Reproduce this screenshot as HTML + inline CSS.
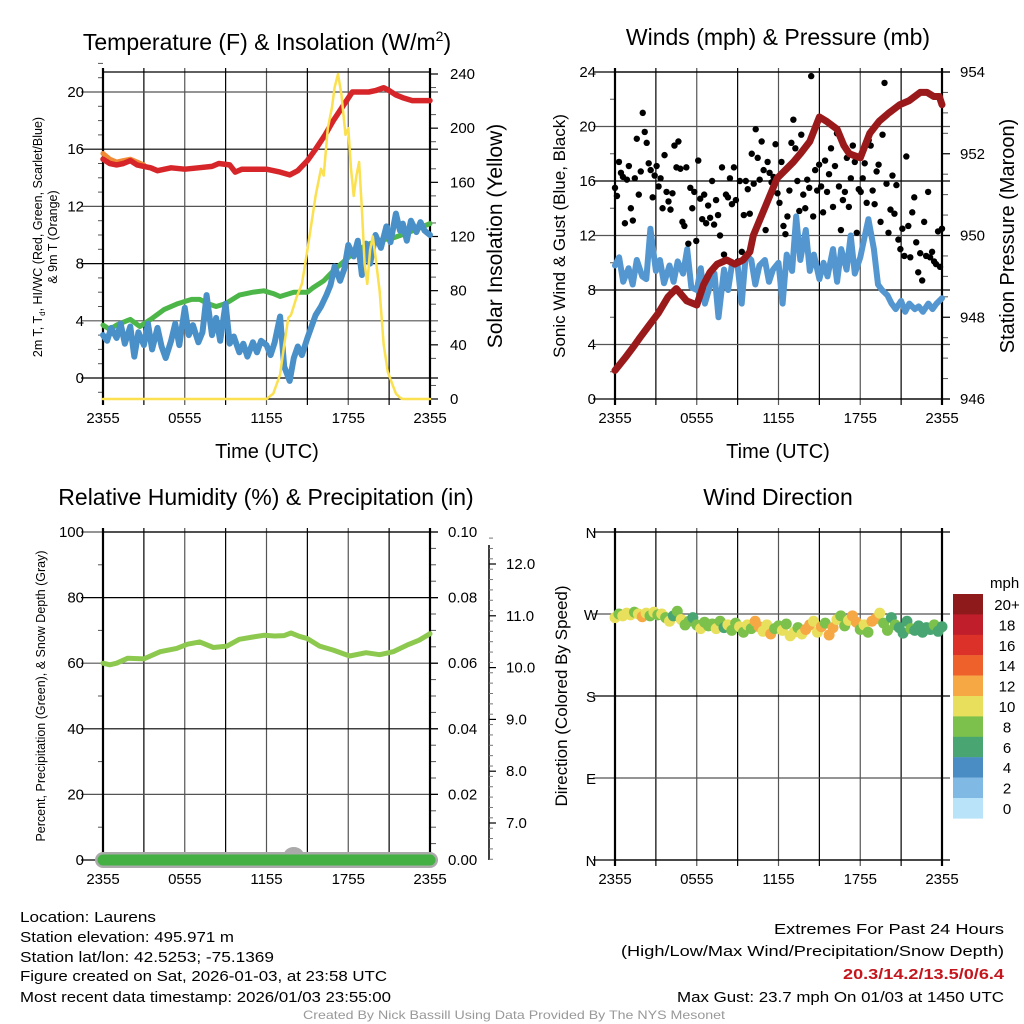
<!DOCTYPE html>
<html><head><meta charset="utf-8"><style>
html,body{margin:0;padding:0;background:#fff}
svg{display:block;font-family:"Liberation Sans",sans-serif}
</style></head><body>
<svg id="chart" width="1024" height="1024" viewBox="0 0 1024 1024" xmlns="http://www.w3.org/2000/svg">
<rect width="1024" height="1024" fill="#fff"/>
<g id="g"></g>
<g font-size="15" fill="#000">
<text x="20" y="922" textLength="136" lengthAdjust="spacingAndGlyphs">Location: Laurens</text>
<text x="20" y="942" textLength="214" lengthAdjust="spacingAndGlyphs">Station elevation: 495.971 m</text>
<text x="20" y="962" textLength="254" lengthAdjust="spacingAndGlyphs">Station lat/lon: 42.5253; -75.1369</text>
<text x="20" y="981" textLength="367" lengthAdjust="spacingAndGlyphs">Figure created on Sat, 2026-01-03, at 23:58 UTC</text>
<text x="20" y="1002" textLength="371" lengthAdjust="spacingAndGlyphs">Most recent data timestamp: 2026/01/03 23:55:00</text>
</g>
<g font-size="15" fill="#000" text-anchor="end">
<text x="1004" y="934" textLength="230" lengthAdjust="spacingAndGlyphs">Extremes For Past 24 Hours</text>
<text x="1004" y="956" textLength="383" lengthAdjust="spacingAndGlyphs">(High/Low/Max Wind/Precipitation/Snow Depth)</text>
<text x="1004" y="979" fill="#c4161c" font-weight="bold" textLength="161" lengthAdjust="spacingAndGlyphs">20.3/14.2/13.5/0/6.4</text>
<text x="1004" y="1002" textLength="327" lengthAdjust="spacingAndGlyphs">Max Gust: 23.7 mph On 01/03 at 1450 UTC</text>
</g>
<text x="514" y="1019" font-size="12" fill="#999" text-anchor="middle" textLength="422" lengthAdjust="spacingAndGlyphs">Created By Nick Bassill Using Data Provided By The NYS Mesonet</text>
</svg>
<script>
// ---------- DATA ----------
const timeTicks = ["2355","0555","1155","1755","2355"];
const tempTimes = [0,0.5,1,1.5,2,2.5,3,3.5,4,5,6,7,8,8.5,9.3,9.7,10.2,11,12,13,13.7,14.3,15,15.6,16.3,16.9,17.6,18.3,19,19.5,20,20.6,21,21.5,22,22.7,23.3,24];
const tempVals  = [15.3,15.0,14.9,15.0,15.2,14.9,14.8,14.7,14.5,14.7,14.6,14.7,14.8,15.0,14.9,14.4,14.6,14.6,14.6,14.4,14.2,14.5,15.2,16.0,17.0,18.0,19.0,20.0,20.0,20.0,20.1,20.3,20.1,19.8,19.6,19.4,19.4,19.4];
const t9Times = [0,0.5,1,1.5,2,3];
const t9Vals  = [15.7,15.3,15.1,15.2,15.3,14.9];
const tdTimes = [0,0.5,1,1.5,2,2.7,3.5,4.5,5.5,6.5,7.1,7.7,8.3,9,10,11,11.8,12.5,13,14,15,15.4,16.2,16.9,17.5,18.1,18.7,19.3,20.2,21.3,22.2,23,24];
const tdVals  = [3.7,3.4,3.7,3.9,4.1,3.6,4.1,4.8,5.2,5.5,5.5,5.2,5.0,5.2,5.8,6.0,6.1,5.9,5.7,6.0,6.0,6.3,6.8,7.5,8.0,8.5,8.9,9.3,9.6,9.8,10.1,10.4,10.8];
const wcTimes = [0,0.3,0.6,1,1.3,1.6,2,2.3,2.6,3,3.3,3.6,4,4.3,4.6,5,5.3,5.6,6,6.3,6.6,7,7.3,7.6,8,8.3,8.6,9,9.3,9.6,10,10.3,10.6,11,11.3,11.6,12,12.3,12.6,13,13.3,13.7,14,14.3,14.6,15,15.3,15.6,16,16.4,16.7,17,17.4,17.7,18,18.4,18.7,19,19.3,19.6,20,20.4,20.8,21.1,21.5,21.8,22,22.3,22.6,23,23.3,23.6,24];
const wcVals  = [3.0,2.6,3.5,2.8,3.8,2.4,3.6,1.5,3.2,2.3,3.8,2.0,3.5,2.2,1.4,2.6,3.8,2.3,4.9,3.0,3.7,2.5,3.2,5.8,3.0,4.2,2.6,5.2,2.4,2.9,1.8,2.4,1.5,2.5,1.8,2.6,2.3,1.6,2.5,4.3,0.8,-0.2,1.4,2.2,1.6,2.8,3.6,4.4,5.0,5.8,6.5,7.8,6.8,7.6,9.3,8.5,9.6,7.2,9.4,8.0,10.0,9.1,10.6,9.5,11.5,10.3,10.8,9.6,11.0,10.2,10.9,10.3,10.0];
const solTimes = [0,12.0,12.5,13,13.3,13.6,13.8,14.2,14.6,15,15.3,15.6,16,16.2,16.5,16.8,17.0,17.25,17.5,17.8,18.0,18.2,18.4,18.6,18.8,19.0,19.2,19.4,19.6,19.8,20.0,20.3,20.6,20.9,21.2,21.5,21.8,22.0,24];
const solVals  = [0,0,4,18,40,60,62,75,85,110,130,150,170,165,200,215,230,240,225,195,200,170,150,165,175,140,100,85,110,120,105,80,40,20,12,4,1,0,0];
const windTimes = [0,0.3,0.6,1,1.3,1.6,2,2.3,2.6,3,3.3,3.6,4,4.3,4.6,5,5.3,5.6,6,6.3,6.6,7,7.3,7.6,8,8.3,8.6,9,9.3,9.6,10,10.3,10.6,11,11.3,11.6,12,12.3,12.6,13,13.3,13.6,14,14.3,14.6,15,15.3,15.6,16,16.3,16.6,17,17.3,17.6,18,18.3,18.6,19,19.3,19.6,20,20.3,20.6,21,21.3,21.6,22,22.3,22.6,23,23.3,23.6,24];
const windVals  = [9.8,10.4,8.6,9.6,8.4,10.2,9.0,8.8,12.5,9.4,10.2,8.5,9.8,8.6,10.1,9.2,11.0,8.2,8.0,9.6,7.0,8.4,9.2,6.0,9.5,8.0,10.0,9.8,7.0,10.6,10.2,8.4,9.8,10.2,8.6,9.5,10.0,7.0,10.6,9.4,13.4,10.2,12.4,9.4,10.6,8.8,10.0,9.0,11.0,8.6,11.0,9.5,12.0,9.2,10.4,11.8,13.2,11.0,8.4,8.0,7.6,7.0,6.6,7.2,6.4,7.0,6.6,6.8,6.4,7.0,6.6,7.0,7.4];
const gustVals = [15.5,14.9,17.4,16.6,16.3,12.9,16.1,17.1,14.0,13.1,16.2,19.1,15.0,16.7,21.0,19.6,18.8,17.3,16.8,14.8,16.4,17.1,15.6,16.2,14.0,17.9,15.2,14.5,13.9,15.1,18.6,17.0,18.9,16.9,13.0,12.7,17.0,11.4,15.5,14.0,15.2,11.6,17.5,14.7,13.2,15.0,12.9,14.2,13.3,16.0,12.8,14.6,13.5,12.0,17.0,10.6,15.0,14.8,16.2,14.3,17.0,14.6,10.1,16.0,10.8,13.5,16.0,15.4,13.6,18.0,15.8,19.8,17.7,16.1,18.9,16.8,12.4,17.4,16.6,15.9,16.3,18.7,15.1,14.4,17.4,12.7,12.1,13.4,15.3,18.8,20.5,18.4,16.0,13.8,19.4,15.0,14.0,16.1,15.5,23.7,13.4,16.8,15.3,17.2,15.6,13.7,17.5,15.2,16.5,18.4,14.1,17.1,19.5,15.6,12.4,14.6,15.2,17.7,14.1,16.2,18.6,17.4,12.2,15.4,15.2,16.2,17.3,14.4,19.0,18.6,15.3,14.3,16.7,17.2,13.0,19.4,23.2,15.8,12.2,13.9,16.4,13.6,15.7,11.7,11.0,12.5,10.5,17.8,12.7,10.4,13.7,14.8,11.5,9.3,10.7,8.7,13.0,10.5,15.2,10.4,10.8,10.1,9.9,12.3,9.7,12.5];
const presTimes = [0,0.73,1.4,1.83,2.5,3.18,3.9,4.5,5.26,6.0,6.5,6.97,7.5,8.2,8.8,9.4,9.9,10.15,10.9,11.4,11.9,12.5,13.1,13.6,14.3,15.0,15.5,16.3,16.8,17.2,18.0,18.7,19.4,20.1,20.9,21.6,22.4,22.9,23.4,23.8,24];
const presVals  = [946.7,947.0,947.3,947.5,947.8,948.1,948.5,948.7,948.4,948.3,948.8,949.1,949.3,949.4,949.3,949.4,949.6,950.0,950.6,951.0,951.4,951.6,951.8,952.0,952.3,952.9,952.8,952.6,952.2,952.0,951.9,952.5,952.8,953.0,953.2,953.3,953.5,953.5,953.4,953.4,953.2];
const rhTimes = [0,0.5,1,1.8,3,4.2,5.4,6.2,7.1,8.1,9.1,10,11,11.8,12.6,13.3,13.8,14.4,15,15.9,16.9,18.1,19.3,20.3,21.3,22.3,23.2,24];
const rhVals  = [60,59.5,60,61.5,61.3,63.5,64.5,65.8,66.5,64.8,65.2,67.3,68,68.5,68.3,68.4,69.2,68.2,67.5,65.2,64,62.2,63.2,62.6,63.5,65.5,67,69];
const precipVals = [0,0];
const precipTimes = [0,24];
const dirVals = [266,270,268,271,269,272,270,267,271,268,272,269,270,266,262,268,273,264,258,262,266,258,254,261,257,259,254,262,255,258,252,260,256,250,258,254,262,256,251,258,248,254,257,252,259,246,250,255,248,253,258,262,250,256,260,247,255,264,268,257,263,268,261,253,258,250,262,265,271,260,252,266,258,255,249,262,254,252,257,250,255,253,258,251,256];
const dirSpeeds = [10,9,10,11,10,9,10,12,10,9,10,9,10,8,11,7,8,10,8,9,7,9,10,8,9,8,10,9,7,10,9,9,10,8,10,9,12,13,11,10,12,9,8,10,9,11,10,8,10,13,12,10,11,12,9,13,12,10,9,8,10,13,12,9,10,8,12,13,10,9,8,7,8,6,7,6,8,7,6,7,6,7,8,6,7];
const legendLabels = ["20+","18","16","14","12","10","8","6","4","2","0"];
const legendColors = ["#8e1a1c","#bf1e2a","#dc3128","#ef612b","#f6a845","#e8e05c","#7cc14c","#49a673","#4a8dc5","#80b9e3","#b9e3f8"];

// ---------- RENDER ----------
const NS="http://www.w3.org/2000/svg";
const root=document.getElementById('g');
function el(tag,attrs,parent){const e=document.createElementNS(NS,tag);for(const k in attrs)e.setAttribute(k,attrs[k]);(parent||root).appendChild(e);return e;}
function txt(s,attrs,parent){const e=el('text',attrs,parent);e.textContent=s;return e;}
function speedColor(s){let i=Math.floor(s/2);if(i>10)i=10;return legendColors[10-i];}
function panel(L,T,R,B){const p={L,T,R,B};p.x=t=>L+t/24*(R-L);return p;}
function linScale(v0,v1,y0,y1){return v=>y0+(v-v0)/(v1-v0)*(y1-y0);}
function poly(xs,ys,xf,yf){return xs.map((t,i)=>xf(t).toFixed(1)+','+yf(ys[i]).toFixed(1)).join(' ');}

function frame(p,name,hgrid,minorL,minorR){
  const g=el('g',{});
  
  
  for(let i=1;i<8;i++){const x=p.L+i*(p.R-p.L)/8;el('line',{x1:x,y1:p.T-4,x2:x,y2:p.B+6,stroke:i%2?'#000':'#555','stroke-width':1.2},g);}
  hgrid.forEach((y,i)=>el('line',{x1:p.L-22,y1:y,x2:p.R+8,y2:y,stroke:i%2?'#555':'#000','stroke-width':1.2},g));
  (minorL||[]).forEach(y=>el('line',{x1:p.L-5,y1:y,x2:p.L,y2:y,stroke:'#555','stroke-width':1},g));
  (minorR||[]).forEach(y=>el('line',{x1:p.R,y1:y,x2:p.R+6,y2:y,stroke:'#555','stroke-width':1},g));
  el('line',{x1:p.L,y1:p.T-4,x2:p.L,y2:p.B+6,stroke:'#000','stroke-width':2.2},g);
  el('line',{x1:p.R,y1:p.T-4,x2:p.R,y2:p.B+6,stroke:'#000','stroke-width':2.2},g);
  el('line',{x1:p.L,y1:p.T,x2:p.R,y2:p.T,stroke:'#000','stroke-width':1.2},g);
  el('line',{x1:p.L,y1:p.B,x2:p.R,y2:p.B,stroke:'#000','stroke-width':1.2},g);
  timeTicks.forEach((s,i)=>{const t=txt(s,{x:p.L+i*(p.R-p.L)/4,y:p.B+24,'font-size':15,'text-anchor':'middle'},g);
    });
  return g;
}
function line(name,pts,color,w,parent){const e=el('polyline',{points:pts,fill:'none',stroke:color,'stroke-width':w,'stroke-linejoin':'round','stroke-linecap':'round'},parent);
  return e;}
function title(s,x,y,name){const t=txt(s,{x,y,'font-size':23,'text-anchor':'middle'});return t;}
function vlabel(s,x,y,fs,name){const t=txt(s,{x:0,y:0,'font-size':fs,'text-anchor':'middle',transform:`translate(${x},${y}) rotate(-90)`});return t;}

// Panel 1: temperature
{
 const p=panel(103,72,430,399);
 const y=linScale(0,20,378,92), ys=linScale(0,240,399,74);
 const hg=[0,4,8,12,16,20].map(y);
 const ml=[];for(let v=-1;v<=22;v++)if(v%4)ml.push(y(v));
 const mr=[];for(let v=10;v<240;v+=20)if(v%40)mr.push(ys(v));
 frame(p,'temperature',hg,ml,mr);
 [0,4,8,12,16,20].forEach(v=>{const t=txt(String(v),{x:84,y:y(v)+5,'font-size':15,'text-anchor':'end'});});
 [0,40,80,120,160,200,240].forEach(v=>{el('line',{x1:p.R,y1:ys(v),x2:p.R+8,y2:ys(v),stroke:'#000','stroke-width':1.2});const t=txt(String(v),{x:450,y:ys(v)+5,'font-size':15,'text-anchor':'start'});});
 line('dewpoint-line',poly(tdTimes,tdVals,p.x,y),'#4cb648',5);
 line('windchill-line',poly(wcTimes,wcVals,p.x,y),'#4a90c8',6);
 line('temp-9m-line',poly(t9Times,t9Vals,p.x,y),'#f08a35',5);
 line('temp-2m-line',poly(tempTimes,tempVals,p.x,y),'#d7262a',5.5);
 line('solar-line',poly(solTimes,solVals,p.x,ys),'#fbe04f',2.5);
 const T=txt('',{x:267,y:50,'font-size':23,'text-anchor':'middle'});
 
 T.innerHTML='Temperature (F) &amp; Insolation (W/m<tspan dy="-9" font-size="14">2</tspan><tspan dy="9">)</tspan>';
 const xl=txt('Time (UTC)',{x:267,y:458,'font-size':20,'text-anchor':'middle'});
 const yl=txt('',{x:0,y:0,'font-size':12.5,'text-anchor':'middle',transform:'translate(42,237) rotate(-90)'});
 
 yl.innerHTML='2m T, T<tspan font-size="8" dy="3">d</tspan><tspan dy="-3">, HI/WC (Red, Green, Scarlet/Blue)</tspan>';
 const yl2=txt('& 9m T (Orange)',{x:0,y:0,'font-size':12.5,'text-anchor':'middle',transform:'translate(57,237) rotate(-90)'});
 
 vlabel('Solar Insolation (Yellow)',502,236,21,'solar-y-axis-title');
}
// Panel 2: winds
{
 const p=panel(615,72,942,399);
 const y=linScale(0,24,399,72), yp=linScale(946,954,399,72);
 const hg=[0,4,8,12,16,20,24].map(y);
 const ml=[];for(let v=2;v<24;v+=4)ml.push(y(v));
 const mr=[];for(let v=946.5;v<954;v+=0.5)if(v%2)mr.push(yp(v));
 frame(p,'winds',hg,ml,mr);
 [0,4,8,12,16,20,24].forEach(v=>{const t=txt(String(v),{x:596,y:y(v)+5,'font-size':15,'text-anchor':'end'});});
 [946,948,950,952,954].forEach(v=>{el('line',{x1:p.R,y1:yp(v),x2:p.R+8,y2:yp(v),stroke:'#000','stroke-width':1.2});const t=txt(String(v),{x:960,y:yp(v)+5,'font-size':15});});
 line('sonic-wind-line',poly(windTimes,windVals,p.x,y),'#5497d0',6);
 const gg=el('g',{});
 gustVals.forEach((v,i)=>{const c=el('circle',{cx:p.x(i*24/(gustVals.length-1)),cy:y(v),r:3.2,fill:'#000'},gg);});
 line('pressure-line',poly(presTimes,presVals,p.x,yp),'#9a1a1c',7);
 title('Winds (mph) & Pressure (mb)',778,45,'winds-title');
 const xl=txt('Time (UTC)',{x:778,y:458,'font-size':20,'text-anchor':'middle'});
 vlabel('Sonic Wind & Gust (Blue, Black)',565,236,17,'wind-y-axis-title');
 vlabel('Station Pressure (Maroon)',1014,236,20,'pressure-y-axis-title');
}
// Panel 3: RH
{
 const p=panel(103,532,430,860);
 const y=linScale(0,100,860,532), yq=linScale(0,0.1,860,532), ysn=linScale(7,12,823,564);
 const hg=[0,20,40,60,80,100].map(y);
 const ml=[];for(let v=10;v<100;v+=20)ml.push(y(v));
 const mr=[];for(let v=0.005;v<0.1;v+=0.005)if(Math.round(v*1000)%20)mr.push(yq(v));
 frame(p,'humidity',hg,ml,mr);
 [0,20,40,60,80,100].forEach(v=>{const t=txt(String(v),{x:84,y:y(v)+5,'font-size':15,'text-anchor':'end'});});
 ["0.00","0.02","0.04","0.06","0.08","0.10"].forEach(s=>{const v=+s;el('line',{x1:p.R,y1:yq(v),x2:p.R+8,y2:yq(v),stroke:'#000','stroke-width':1.2});const t=txt(s,{x:448,y:yq(v)+5,'font-size':15});});
 const sa=el('g',{});
 el('line',{x1:489,y1:545,x2:489,y2:860,stroke:'#000','stroke-width':1.5},sa);
 for(let v=6.3;v<=12.6;v+=0.2){el('line',{x1:489,y1:ysn(v),x2:493,y2:ysn(v),stroke:'#777','stroke-width':1},sa);}
 ["7.0","8.0","9.0","10.0","11.0","12.0"].forEach(s=>{const v=+s;el('line',{x1:489,y1:ysn(v),x2:496,y2:ysn(v),stroke:'#000','stroke-width':1.2},sa);txt(s,{x:506,y:ysn(v)+5,'font-size':15},sa);});
 line('snow-depth-line',`${p.L},860 ${p.R},860`,'#aaa',16);
 const sb=el('ellipse',{cx:p.x(14),cy:855,rx:10,ry:8,fill:'#aaa'});
 line('precip-line',poly(precipTimes,precipVals,p.x,yq),'#44b044',11);
 line('rh-line',poly(rhTimes,rhVals,p.x,y),'#8dc94e',5);
 title('Relative Humidity (%) & Precipitation (in)',266,505,'humidity-title');
 vlabel('Percent, Precipitation (Green), & Snow Depth (Gray)',45,696,12.5,'rh-y-axis-title');
}
// Panel 4: wind direction
{
 const p=panel(615,532,942,860);
 const y=linScale(360,0,532,860);
 frame(p,'wind-direction',[360,270,180,90,0].map(y),[],[]);
 ["N","W","S","E","N"].forEach((s,i)=>{const t=txt(s,{x:591,y:532+i*82+6,'font-size':15,'text-anchor':'middle'});});
 const dg=el('g',{});
 dirVals.forEach((v,i)=>{const c=el('circle',{cx:p.x(i*24/(dirVals.length-1)),cy:y(v),r:5.5,fill:speedColor(dirSpeeds[i])},dg);});
 title('Wind Direction',778,505,'wind-direction-title');
 vlabel('Direction (Colored By Speed)',567,696,17,'direction-y-axis-title');
 const lg=el('g',{});
 txt('mph',{x:990,y:588,'font-size':15},lg);
 legendColors.forEach((c,i)=>{const r=el('rect',{x:953,y:594+i*20.4,width:30,height:20.6,fill:c},lg);
   txt(legendLabels[i],{x:1007,y:594+i*20.4+16,'font-size':15,'text-anchor':'middle'},lg);});
}
</script>
</body></html>
